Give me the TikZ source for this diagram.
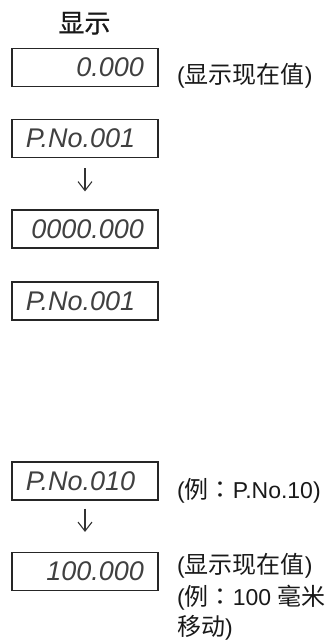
\documentclass[tikz,border=0pt]{standalone}
\usepackage{fontspec}
\usetikzlibrary{arrows.meta}
\newfontfamily\cjk{Noto Sans CJK SC}
\newfontfamily\cjktitle[FakeBold=0.6]{Noto Sans CJK SC}
\newfontfamily\cjkjp{Noto Sans CJK JP}
\newfontfamily\lcdfont{Liberation Sans}
\newfontfamily\lblfont{Liberation Sans}
\newcommand\zh[1]{{\cjk\fontsize{24}{24}\selectfont #1}}
\newcommand\zhcolon{{\cjkjp\fontsize{24}{24}\selectfont ：}}
\begin{document}
\begin{tikzpicture}[x=1pt,y=-1pt,
  lcdbox/.style={draw=black!85, line width=1.1pt, minimum width=146pt, minimum height=38pt,
    inner xsep=14pt, inner ysep=0pt, text width=118pt,
    font=\lcdfont\itshape\fontsize{27}{27}\selectfont, text=black!75},
  lbl/.style={anchor=base west, inner sep=0pt, font=\lblfont\fontsize{23}{23}\selectfont, text=black!90},
  flow/.style={draw=black!80, line width=1.1pt, -{Straight Barb[length=9pt,width=14pt,line width=1.1pt]}}]
\useasboundingbox (0,0) rectangle (330,641);
\node[font=\cjktitle\fontsize{26}{26}\selectfont, inner sep=0pt, anchor=base, text=black!90] (title) at (84.5,32.5) {显示};
\node[lcdbox, align=right] (b1) at (85,67.5) {0.000};
\node[lbl] (l1) at (177,83.5) {(\zh{显示现在值})};
\node[lcdbox, align=left] (b2) at (85,138.5) {P.No.001};
\node[lcdbox, align=right] (b3) at (85,229) {0000.000};
\node[lcdbox, align=left] (b4) at (85,301) {P.No.001};
\node[lcdbox, align=left] (b5) at (85,481) {P.No.010};
\node[lbl] (l5) at (177,498.5) {(\zh{例}\zhcolon P.No.10)};
\node[lcdbox, align=right] (b6) at (85,571.5) {100.000};
\node[lbl] (l6a) at (177,573.5) {(\zh{显示现在值})};
\node[lbl] (l6b) at (177,605) {(\zh{例}\zhcolon 100 \zh{毫米}};
\node[lbl] (l6c) at (177,635) {\zh{移动})};
\draw[flow, shorten <=10pt, shorten >=18pt] (b2.south) -- (b3.north);
\draw[flow, shorten <=8pt, shorten >=20pt] (b5.south) -- (b6.north);
\end{tikzpicture}
\end{document}
